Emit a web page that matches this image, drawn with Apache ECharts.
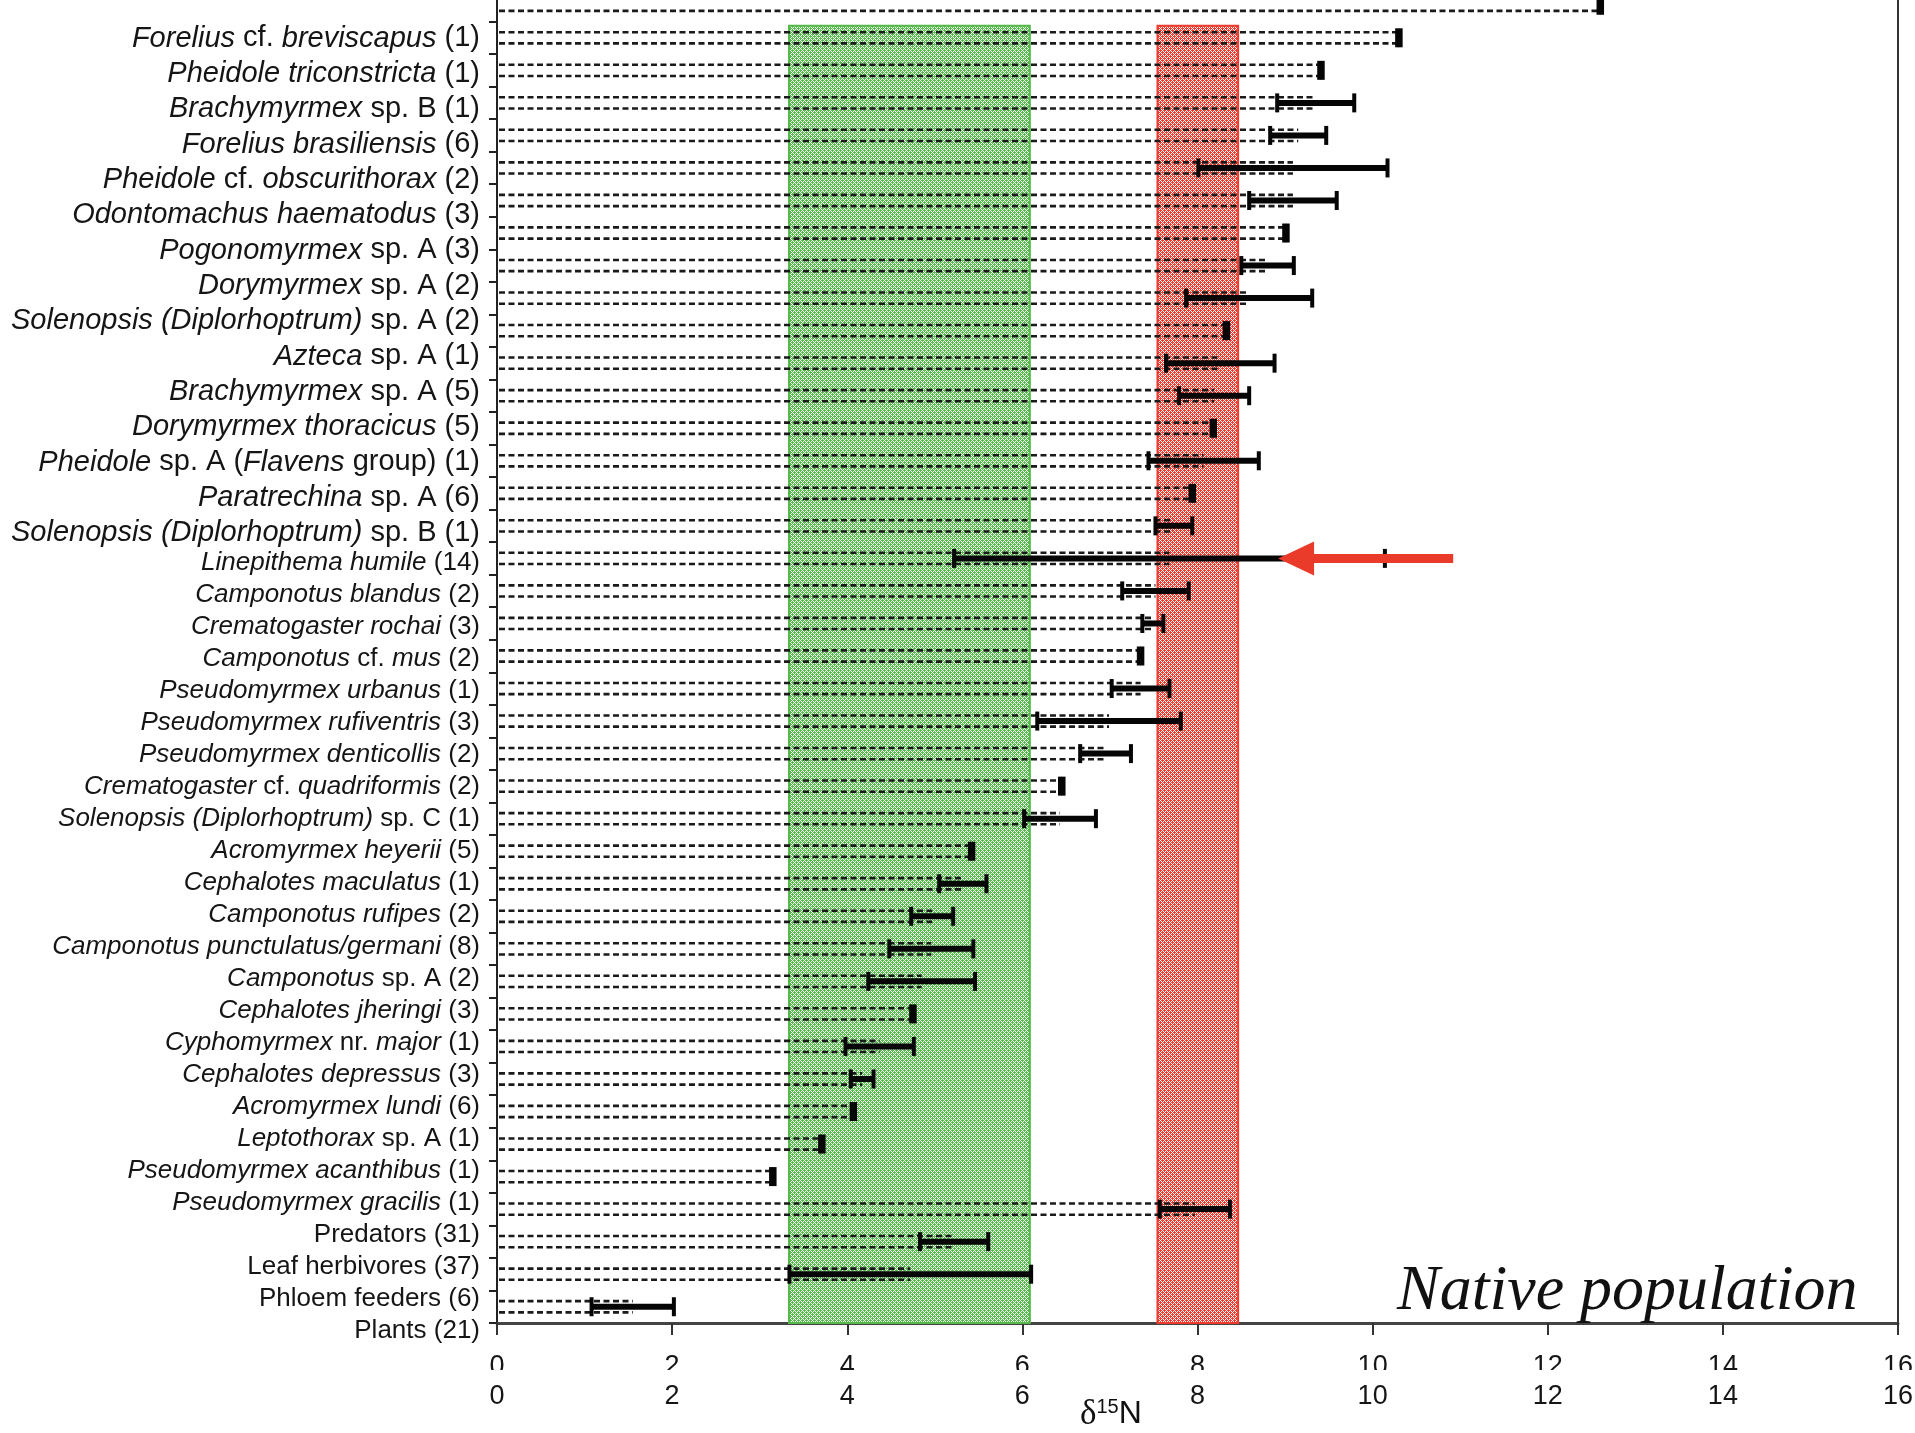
<!DOCTYPE html>
<html>
<head>
<meta charset="utf-8">
<script src="https://cdn.jsdelivr.net/npm/echarts@6/dist/echarts.min.js"></script>
<style>
html, body { margin: 0; padding: 0; background: #ffffff; }
#chart { width: 1915px; height: 1433px; }
</style>
</head>
<body>
<div id="chart"></div>
<script>
// ---------- DATA ----------
// Labels (text between underscores is italic). Upper block and lower block are typeset with different spacing.
const labelsUpper = [
  '_Forelius_ cf. _breviscapus_ (1)',
  '_Pheidole triconstricta_ (1)',
  '_Brachymyrmex_ sp. B (1)',
  '_Forelius brasiliensis_ (6)',
  '_Pheidole_ cf. _obscurithorax_ (2)',
  '_Odontomachus haematodus_ (3)',
  '_Pogonomyrmex_ sp. A (3)',
  '_Dorymyrmex_ sp. A (2)',
  '_Solenopsis (Diplorhoptrum)_ sp. A (2)',
  '_Azteca_ sp. A (1)',
  '_Brachymyrmex_ sp. A (5)',
  '_Dorymyrmex thoracicus_ (5)',
  '_Pheidole_ sp. A (_Flavens_ group) (1)',
  '_Paratrechina_ sp. A (6)',
  '_Solenopsis (Diplorhoptrum)_ sp. B (1)'
];
const labelsLower = [
  '_Linepithema humile_ (14)',
  '_Camponotus blandus_ (2)',
  '_Crematogaster rochai_ (3)',
  '_Camponotus_ cf. _mus_ (2)',
  '_Pseudomyrmex urbanus_ (1)',
  '_Pseudomyrmex rufiventris_ (3)',
  '_Pseudomyrmex denticollis_ (2)',
  '_Crematogaster_ cf. _quadriformis_ (2)',
  '_Solenopsis (Diplorhoptrum)_ sp. C (1)',
  '_Acromyrmex heyerii_ (5)',
  '_Cephalotes maculatus_ (1)',
  '_Camponotus rufipes_ (2)',
  '_Camponotus punctulatus/germani_ (8)',
  '_Camponotus_ sp. A (2)',
  '_Cephalotes jheringi_ (3)',
  '_Cyphomyrmex_ nr. _major_ (1)',
  '_Cephalotes depressus_ (3)',
  '_Acromyrmex lundi_ (6)',
  '_Leptothorax_ sp. A (1)',
  '_Pseudomyrmex acanthibus_ (1)',
  '_Pseudomyrmex gracilis_ (1)',
  'Predators (31)',
  'Leaf herbivores (37)',
  'Phloem feeders (6)',
  'Plants (21)'
];
// Bar rows, top to bottom (row 0 is the cut-off row at the very top)
const rowMeans = [12.60, 10.30, 9.41, 9.35, 9.15, 9.09, 9.09, 9.01, 8.80, 8.59,
                  8.33, 8.26, 8.19, 8.18, 8.07, 7.94, 7.73, 7.68, 7.52, 7.49,
                  7.35, 7.35, 6.99, 6.95, 6.45, 6.43, 5.42, 5.32, 4.97, 4.96,
                  4.85, 4.75, 4.37, 4.17, 4.07, 3.71, 3.15, 7.97, 5.22, 4.72, 1.55];
const rowSDs   = [0.02, 0.02, 0.02, 0.44, 0.32, 1.08, 0.50, 0.02, 0.30, 0.72,
                  0.02, 0.62, 0.40, 0.02, 0.63, 0.02, 0.21, 2.46, 0.38, 0.12,
                  0.02, 0.33, 0.82, 0.29, 0.02, 0.41, 0.02, 0.27, 0.24, 0.48,
                  0.61, 0.02, 0.39, 0.13, 0.02, 0.02, 0.02, 0.40, 0.39, 1.38, 0.47];
const greenBand = [3.335, 6.085];
const redBand = [7.543, 8.464];
const arrowTip = 8.92, arrowTail = 10.92, arrowRow = 17;
const xMin = 0, xMax = 16, xStep = 2;

// ---------- STYLE / LAYOUT ----------
const SANS = 'Liberation Sans, Arial, Helvetica, sans-serif';
const SERIF = 'Liberation Serif, Times New Roman, serif';
const bandTopOffsetRows = 0.633;
const halfGap = 5.6;

function makePattern(color) {
  const c = document.createElement('canvas');
  c.width = 4; c.height = 4;
  const g = c.getContext('2d');
  g.fillStyle = color;
  g.fillRect(0, 0, 4, 4);
  g.fillStyle = '#ffffff';
  for (let y = 0; y < 4; y++) for (let x = 0; x < 4; x++) {
    if ((x + y) % 4 === 0 || (x - y + 4) % 4 === 0) g.fillRect(x, y, 1, 1);
  }
  return c;
}
const bandPatterns = [makePattern('#55bb4b'), makePattern('#f03c2e')];
const bandBorders = ['#54b84a', '#ee3b2d'];

function richLabel(size) {
  return {
    i: { fontFamily: SANS, fontStyle: 'italic', fontSize: size, color: '#151515' },
    n: { fontFamily: SANS, fontStyle: 'normal', fontSize: size, color: '#151515' }
  };
}
function labelFormatter(v) {
  return String(v).split('_').map((s, k) => s ? (k % 2 ? '{i|' + s + '}' : '{n|' + s + '}') : '').join('');
}

const rowIds = rowMeans.map((_, i) => 'row ' + i);
const barData = rowMeans.map((m, i) => [m - rowSDs[i], m + rowSDs[i], m, i]);
const bandData = [[greenBand[0], greenBand[1], 0], [redBand[0], redBand[1], 0]];

const chart = echarts.init(document.getElementById('chart'), null, { renderer: 'canvas' });

const option = {
  animation: false,
  backgroundColor: '#ffffff',
  title: [
    {
      text: 'Native population', left: 1397, top: 1260, padding: 0,
      textStyle: { fontFamily: SERIF, fontStyle: 'italic', fontWeight: 'normal', fontSize: 64, color: '#111111' }
    },
    {
      text: '{d|δ}{s|15}{n|N}', left: 1080, top: 1397, padding: 0,
      textStyle: {
        fontWeight: 'normal',
        rich: {
          d: { fontFamily: SERIF, fontWeight: 'normal', fontSize: 35, color: '#111111', lineHeight: 35 },
          s: { fontFamily: SANS, fontWeight: 'normal', fontSize: 20, color: '#111111', lineHeight: 16, verticalAlign: 'top' },
          n: { fontFamily: SANS, fontWeight: 'normal', fontSize: 32, color: '#111111', lineHeight: 35 }
        }
      }
    }
  ],
  grid: [
    { left: 497, right: 17, top: -11, bottom: 110, outerBoundsMode: 'none', containLabel: false },
    { left: 497, width: 10, top: 20.8, height: 530, outerBoundsMode: 'none', containLabel: false },
    { left: 497, width: 10, top: 547, height: 800, outerBoundsMode: 'none', containLabel: false }
  ],
  xAxis: [
    {
      gridIndex: 0, type: 'value', position: 'bottom', min: xMin, max: xMax, interval: xStep,
      axisLine: { show: true, lineStyle: { color: '#444444', width: 3 } },
      axisTick: { show: true, length: 12, lineStyle: { color: '#333333', width: 2 } },
      splitLine: { show: false },
      axisLabel: { margin: 60, fontSize: 27, fontFamily: SANS, color: '#151515' }
    },
    {
      gridIndex: 0, type: 'value', position: 'bottom', min: xMin, max: xMax, interval: xStep,
      axisLine: { show: false }, axisTick: { show: false }, splitLine: { show: false },
      axisLabel: { margin: 30, fontSize: 27, fontFamily: SANS, color: '#151515' }
    },
    { gridIndex: 1, type: 'value', show: false },
    { gridIndex: 2, type: 'value', show: false }
  ],
  yAxis: [
    {
      gridIndex: 0, type: 'category', inverse: true, data: rowIds,
      axisLine: { show: true, onZero: false, lineStyle: { color: '#222222', width: 2 } },
      axisTick: { show: true, interval: 0, length: 8, lineStyle: { color: '#222222', width: 2 } },
      axisLabel: { show: false }, splitLine: { show: false }
    },
    {
      gridIndex: 0, type: 'category', position: 'right', inverse: true, data: rowIds,
      axisLine: { show: true, onZero: false, lineStyle: { color: '#333333', width: 2 } },
      axisTick: { show: false }, axisLabel: { show: false }, splitLine: { show: false }
    },
    {
      gridIndex: 1, type: 'category', inverse: true, data: labelsUpper,
      axisLine: { show: false }, axisTick: { show: false }, splitLine: { show: false },
      axisLabel: { interval: 0, margin: 17, formatter: labelFormatter, rich: richLabel(29) }
    },
    {
      gridIndex: 2, type: 'category', inverse: true, data: labelsLower,
      axisLine: { show: false }, axisTick: { show: false }, splitLine: { show: false },
      axisLabel: { interval: 0, margin: 17, formatter: labelFormatter, rich: richLabel(26) }
    }
  ],
  graphic: {
    elements: [
      { type: 'rect', z: 100, silent: true, shape: { x: 485, y: 1370, width: 1430, height: 15 }, style: { fill: '#ffffff' } }
    ]
  },
  series: [
    {
      name: 'bands', type: 'custom', xAxisIndex: 0, yAxisIndex: 0, z: 1,
      encode: { x: [0, 1], y: 2 },
      data: bandData,
      renderItem: function (params, api) {
        const r = api.value(2);
        const p0 = api.coord([api.value(0), r]);
        const p1 = api.coord([api.value(1), r]);
        const rowH = api.size([0, 1])[1];
        const top = p0[1] + bandTopOffsetRows * rowH;
        const bottom = params.coordSys.y + params.coordSys.height;
        const k = params.dataIndex;
        return {
          type: 'rect',
          shape: { x: p0[0], y: top, width: p1[0] - p0[0], height: bottom - top },
          style: { fill: { image: bandPatterns[k], repeat: 'repeat' }, stroke: bandBorders[k], lineWidth: 2 }
        };
      }
    },
    {
      name: 'delta15N', type: 'custom', xAxisIndex: 0, yAxisIndex: 0, z: 3,
      encode: { x: [0, 1, 2], y: 3 },
      data: barData,
      renderItem: function (params, api) {
        const lo = api.value(0), hi = api.value(1), m = api.value(2), r = api.value(3);
        const c = api.coord([0, r]);
        const pm = api.coord([m, r]);
        const pl = api.coord([lo, r]);
        const ph = api.coord([hi, r]);
        const y = c[1];
        const dash = { stroke: '#1a1a1a', lineWidth: 2.6, lineDash: [6, 3.5] };
        const solid = { stroke: '#050505', lineWidth: 6 };
        const cap = { stroke: '#050505', lineWidth: 4 };
        const children = [];
        if (y - halfGap > 2) {
          children.push({ type: 'line', shape: { x1: c[0] + 2, y1: y - halfGap, x2: pm[0], y2: y - halfGap }, style: dash });
        }
        children.push(
          { type: 'line', shape: { x1: c[0] + 2, y1: y + halfGap, x2: pm[0], y2: y + halfGap }, style: dash },
          { type: 'line', shape: { x1: pl[0], y1: y, x2: ph[0], y2: y }, style: solid },
          { type: 'line', shape: { x1: pl[0], y1: y - 9.5, x2: pl[0], y2: y + 9.5 }, style: cap },
          { type: 'line', shape: { x1: ph[0], y1: y - 9.5, x2: ph[0], y2: y + 9.5 }, style: cap }
        );
        return { type: 'group', children: children };
      }
    },
    {
      name: 'arrow', type: 'custom', xAxisIndex: 0, yAxisIndex: 0, z: 5,
      encode: { x: [0, 1], y: 2 },
      data: [[arrowTip, arrowTail, arrowRow]],
      renderItem: function (params, api) {
        const tip = api.coord([api.value(0), api.value(2)]);
        const tail = api.coord([api.value(1), api.value(2)]);
        const headLen = 36, headHalf = 17, shaft = 9;
        const color = '#ea3a2a';
        return {
          type: 'group',
          children: [
            { type: 'rect', shape: { x: tip[0] + headLen - 1, y: tip[1] - shaft / 2, width: tail[0] - tip[0] - headLen + 1, height: shaft }, style: { fill: color } },
            { type: 'polygon', shape: { points: [[tip[0], tip[1]], [tip[0] + headLen, tip[1] - headHalf], [tip[0] + headLen, tip[1] + headHalf]] }, style: { fill: color } }
          ]
        };
      }
    }
  ]
};
chart.setOption(option);
</script>
</body>
</html>
